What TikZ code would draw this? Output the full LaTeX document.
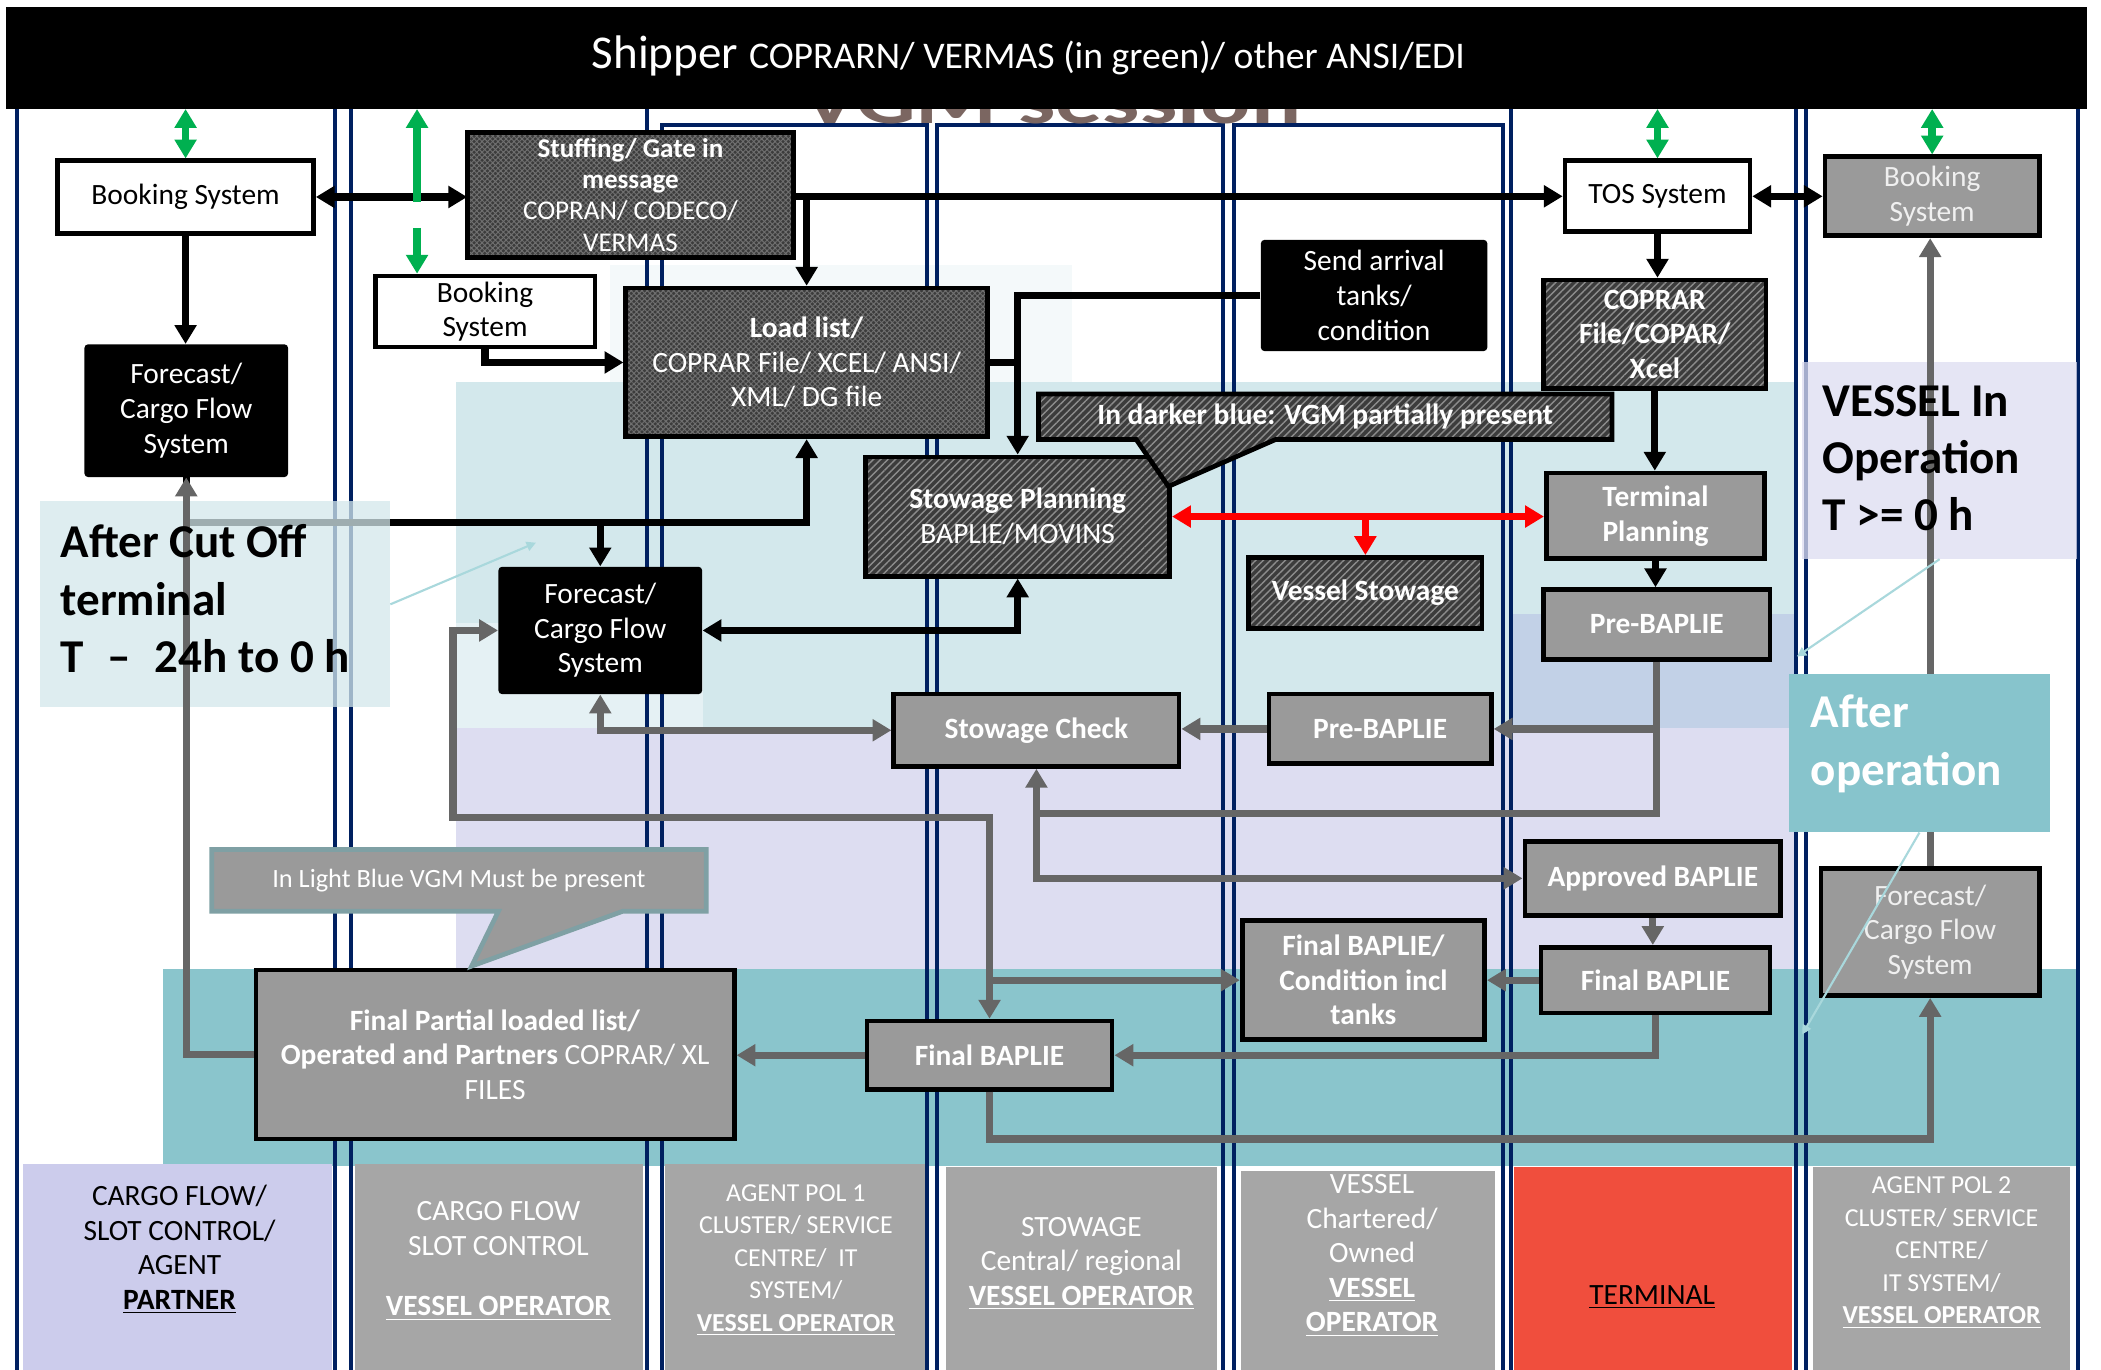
\documentclass[tikz,border=0pt]{standalone}
\usepackage{fontspec}
\setmainfont{Carlito}
\usepackage{tikz}
\usetikzlibrary{arrows.meta,patterns.meta}

\definecolor{lanenavy}{HTML}{002060}
\definecolor{vgmgreen}{HTML}{00B050}
\definecolor{boxgray}{HTML}{9A9A9A}
\definecolor{linegray}{HTML}{666666}
\definecolor{taggray}{HTML}{A6A6A6}
\definecolor{tagpurple}{HTML}{CCCCEC}
\definecolor{termred}{HTML}{F04E3D}
\definecolor{paleblue}{HTML}{D3E8EC}
\definecolor{palerblue}{HTML}{E5F1F4}
\definecolor{faintblue}{HTML}{F4F9FA}
\definecolor{darkblue}{HTML}{C2D1E7}
\definecolor{lavender}{HTML}{DDDDF1}
\definecolor{tealband}{HTML}{8AC5CC}
\definecolor{afterteal}{HTML}{87C4CC}
\definecolor{hatchbg}{HTML}{3C3C3C}
\definecolor{hatchln}{HTML}{8C8C8C}
\definecolor{calloutedge}{HTML}{7FA0A4}
\definecolor{wmbrown}{HTML}{7B6661}
\definecolor{pointerblue}{HTML}{A9D8DC}

\newcommand{\flowfont}{\fontsize{12.5}{14.7}\selectfont}
\newcommand{\notefont}{\fontsize{11.2}{13.4}\selectfont}
\newcommand{\smalltagfont}{\fontsize{11}{13.8}\selectfont}
\newcommand{\bigfont}{\fontsize{20}{24.4}\selectfont}

\begin{document}
\begin{tikzpicture}[x=0.02cm, y=-0.02cm, >={Triangle[length=8pt,width=9pt]}]
    \tikzstyle{lane} = [draw=lanenavy, line width=1.7pt]
    \tikzstyle{whitebox} = [rectangle, draw=black, line width=2pt, fill=white, inner sep=1pt, font=\flowfont, align=center]
    \tikzstyle{blackbox} = [rectangle, fill=black, rounded corners=1.5pt, text=white, inner sep=1pt, font=\flowfont, align=center]
    \tikzstyle{graybox} = [rectangle, draw=black, line width=2pt, fill=boxgray, text=white, inner sep=1pt, font=\flowfont\bfseries, align=center]
    \tikzstyle{hatchfill} = [draw=black, line width=2pt, preaction={fill=hatchbg}, pattern={Lines[angle=45,distance=2.2pt,line width=0.6pt]}, pattern color=hatchln]
    \tikzstyle{hatchbox} = [rectangle, hatchfill, text=white, inner sep=1pt, font=\flowfont\bfseries, align=center]
    \tikzstyle{crossbox} = [hatchbox, pattern={Hatch[angle=45,distance=1.6pt,line width=0.4pt]}, pattern color=hatchln!80!black]
    \tikzstyle{tag} = [text=white, font=\flowfont, align=center]
    \tikzstyle{bigtext} = [font=\bigfont\bfseries, align=left, anchor=west, inner xsep=0pt]
    \tikzstyle{blk} = [draw=black, line width=3.1pt, ->]
    \tikzstyle{blkboth} = [draw=black, line width=3.1pt, <->]
    \tikzstyle{blkjoin} = [draw=black, line width=3.1pt]
    \tikzstyle{gry} = [draw=linegray, line width=3.1pt, ->]
    \tikzstyle{gryboth} = [draw=linegray, line width=3.1pt, <->]
    \tikzstyle{gryjoin} = [draw=linegray, line width=3.1pt]
    \tikzstyle{redboth} = [draw=red, line width=3.3pt, <->]
    \tikzstyle{redone} = [draw=red, line width=3.3pt, ->]
    \tikzstyle{grnboth} = [draw=vgmgreen, line width=3.2pt, <->]
    \tikzstyle{pointer} = [draw=pointerblue, line width=0.9pt, -{Triangle[length=4pt,width=4pt]}]

    \useasboundingbox (0,0) rectangle (1568,1022);
    \clip (0,0) rectangle (1568,1022);
    \fill[white] (0,0) rectangle (1568,1022);

    % Shaded phases
    \fill[faintblue] (455,198) rectangle (800,285);
    \fill[paleblue] (340,285) rectangle (1340,543);
    \fill[palerblue] (340,465) rectangle (525,543);
    \fill[darkblue] (1128,458) rectangle (1340,543);
    \fill[lavender] (340,543) rectangle (1340,723);
    \fill[tealband] (122,723) rectangle (1549,870);

    % Party labels at the foot of the lanes
    \foreach \xa/\ya/\xb/\col in {17/869/248/tagpurple, 265/869/480/taggray, 496/869/690/taggray, 706/871/908/taggray, 926/874/1116/taggray, 1130/871/1337/termred, 1353/871/1545/taggray}
        \fill[\col] (\xa,\ya) rectangle (\xb,1040);

    % Lanes
    \foreach \xa/\ya/\xb in {13/78/250, 262/78/483, 494/93/692, 699/93/913, 921/93/1122, 1128/78/1340, 1348/78/1551}
        \draw[lane] (\xa,\ya) rectangle (\xb,1040);

    % Header
    \node[text=wmbrown, font=\fontsize{28}{28}\selectfont\bfseries, xscale=1.42, anchor=base, inner sep=0pt] (wmark) at (785,92) {VGM session};
    \node[fill=black, minimum width=31.08cm, minimum height=1.51cm, inner sep=0pt] (hdr) at (781,43.25) {};
    \node[text=white, anchor=base, inner sep=0pt] (hdrtxt) at (767.5,51) {\fontsize{20}{24}\selectfont Shipper \fontsize{16}{20}\selectfont COPRARN/ VERMAS (in green)/ other ANSI/EDI};

    % Systems and messages
    \node[whitebox, minimum width=3.82cm, minimum height=1.08cm] (bookA) at (138.5,147) {Booking System};
    \node[blackbox, minimum width=3.04cm, minimum height=1.98cm] (fcA) at (139,306.5) {Forecast/\\Cargo Flow\\System};
    \node[crossbox, minimum width=4.86cm, minimum height=1.86cm, inner sep=0pt, font=\fontsize{11.5}{13.2}\selectfont] (stuff) at (470.5,145.5) {\textbf{Stuffing/ Gate in}\\\textbf{message}\\COPRAN/ CODECO/\\VERMAS};
    \node[whitebox, minimum width=3.28cm, minimum height=1.06cm] (bookB) at (362,232.5) {Booking\\System};
    \node[crossbox, minimum width=5.4cm, minimum height=2.22cm, font=\flowfont] (load) at (602,270.5) {\textbf{Load list/}\\COPRAR File/ XCEL/ ANSI/\\XML/ DG file};
    \node[blackbox, minimum width=3.38cm, minimum height=1.66cm] (arrival) at (1025.5,220.5) {Send arrival\\tanks/\\condition};
    \node[whitebox, minimum width=2.76cm, minimum height=1.06cm] (tos) at (1237,146.5) {TOS System};
    \node[graybox, font=\flowfont, text=white!94!black, minimum width=3.2cm, minimum height=1.18cm] (bookC) at (1442,146.5) {Booking\\System};
    \node[hatchbox, minimum width=3.32cm, minimum height=1.62cm] (coprar) at (1235,249.5) {COPRAR\\File/COPAR/\\Xcel};
    \node[hatchbox, minimum width=4.54cm, minimum height=1.78cm, font=\flowfont] (stowplan) at (759.5,385.5) {\textbf{Stowage Planning}\\BAPLIE/MOVINS};
    \node[graybox, minimum width=3.26cm, minimum height=1.28cm] (termplan) at (1235.5,385) {Terminal\\Planning};
    \node[hatchbox, minimum width=3.48cm, minimum height=1.06cm] (vstow) at (1019,442.5) {Vessel Stowage};
    \node[graybox, minimum width=3.38cm, minimum height=1.04cm] (prebapT) at (1236.5,466) {Pre-BAPLIE};
    \node[blackbox, minimum width=3.04cm, minimum height=1.9cm] (fcB) at (448,470.5) {Forecast/\\Cargo Flow\\System};
    \node[graybox, minimum width=4.26cm, minimum height=1.08cm] (stowcheck) at (773.5,545) {Stowage Check};
    \node[graybox, minimum width=3.32cm, minimum height=1.04cm] (prebapV) at (1030,544) {Pre-BAPLIE};
    \node[graybox, minimum width=3.82cm, minimum height=1.1cm] (approved) at (1233.5,655.5) {Approved BAPLIE};
    \node[graybox, minimum width=3.62cm, minimum height=1.78cm] (finalcond) at (1017.5,731.5) {Final BAPLIE/\\Condition incl\\tanks};
    \node[graybox, minimum width=3.42cm, minimum height=0.98cm] (finalT) at (1235.5,731.5) {Final BAPLIE};
    \node[graybox, font=\flowfont, minimum width=7.14cm, minimum height=2.52cm] (partial) at (369.5,787) {\textbf{Final Partial loaded list/}\\\textbf{Operated and Partners} COPRAR/ XL\\FILES};
    \node[graybox, minimum width=3.66cm, minimum height=1.02cm] (finalS) at (738.5,787.5) {Final BAPLIE};
    \node[graybox, font=\flowfont, text=white!94!black, minimum width=3.26cm, minimum height=1.9cm] (fcC) at (1440.5,695.5) {Forecast/\\Cargo Flow\\System};

    % Black flows
    \draw[blkboth] (bookA.east) -- (bookA.east -| stuff.west);
    \draw[blk] (stuff.east |- tos.west) -- (tos.west);
    \draw[blk] (load.north |- tos.west) -- (load.north);
    \draw[blkboth] (tos.east) -- (tos.east -| bookC.west);
    \draw[blk] (bookA.south) -- (bookA.south |- fcA.north);
    \draw[blk] (bookB.south) |- (load.west);
    \draw[blkjoin] (load.east) -- (load.east -| stowplan.north);
    \draw[blk] (arrival.west) -| (stowplan.north);
    \coordinate (cutline) at (0,390);
    \draw[blk] (fcA.south) |- (load.south |- cutline) -- (load.south);
    \draw[blk] (fcB.north |- cutline) -- (fcB.north);
    \draw[blkboth] (fcB.east) -| (stowplan.south);
    \draw[blk] (tos.south) -- (tos.south |- coprar.north);
    \draw[blk] (coprar.south) -- (coprar.south |- termplan.north);
    \draw[blk] (termplan.south) -- (termplan.south |- prebapT.north);

    % Time windows
    \node[fill=paleblue, fill opacity=0.75, minimum width=5.22cm, minimum height=3.08cm, inner sep=0pt] (cutoff) at (160.5,451) {};
    \node[fill=lavender, fill opacity=0.75, minimum width=4.1cm, minimum height=2.94cm, inner sep=0pt] (vesselop) at (1447.5,343.5) {};

    % Gray flows
    \draw[gry] (partial.west) -| (fcA.south);
    \draw[gryboth] (fcB.south) |- (stowcheck.west);
    \draw[gry] (prebapV.west) -- (prebapV.west -| stowcheck.east);
    \coordinate (planline) at (0,607);
    \draw[gryjoin] (prebapT.south) |- (stowcheck.south |- planline);
    \draw[gry] (prebapT.south |- prebapV.east) -- (prebapV.east);
    \draw[gryboth] (stowcheck.south) |- (approved.west);
    \coordinate (backline) at (338,610);
    \draw[gryboth] (fcB.west) -| (backline) -| (finalS.north);
    \draw[gry] (finalS.north |- finalcond.west) -- (finalcond.west);
    \draw[gry] (approved.south) -- (approved.south |- finalT.north);
    \draw[gry] (finalT.west) -- (finalT.west -| finalcond.east);
    \draw[gry] (finalT.south) |- (finalS.east);
    \draw[gry] (finalS.west) -- (finalS.west -| partial.east);
    \coordinate (bottomline) at (0,850);
    \draw[gry] (finalS.south) -- (finalS.south |- bottomline) -| (fcC.south);
    \draw[gry] (fcC.north) -- (fcC.north |- bookC.south);

    % Red and green flows
    \draw[redboth] (stowplan.east) -- (stowplan.east -| termplan.west);
    \draw[redone] (vstow.north |- stowplan.east) -- (vstow.north);
    \draw[grnboth] (bookA.north |- hdr.south) -- (bookA.north);
    \coordinate (bookBgreen) at ([xshift=0.66cm]bookB.north west);
    \draw[grnboth, dash pattern=on 32pt off 11pt] (bookBgreen |- hdr.south) -- (bookBgreen);
    \draw[grnboth] (tos.north |- hdr.south) -- (tos.north);
    \draw[grnboth] (bookC.north |- hdr.south) -- (bookC.north);

    % Window labels
    \node[bigtext] (cutofftxt) at (45,447) {After Cut Off\\terminal\\T\enspace–\enspace24h to 0 h};
    \node[bigtext] (vesseltxt) at (1360,342) {VESSEL In\\Operation\\T >= 0 h};
    \node[fill=afterteal, minimum width=3.9cm, minimum height=2.36cm, inner sep=0pt] (afterop) at (1432.5,562) {};
    \node[bigtext, text=white] (aftertxt) at (1351,555) {After\\operation};

    % Callouts
    \draw[hatchfill] (775,294) -- (1203,294) -- (1203,328) -- (952,328) -- (872,363) -- (848,328) -- (775,328) -- cycle;
    \node[text=white, font=\flowfont\bfseries] (darknote) at (989,311) {In darker blue: VGM partially present};
    \draw[fill=boxgray, draw=calloutedge, line width=2pt] (158,634) -- (527,634) -- (527,680) -- (465,680) -- (352,721) -- (372,680) -- (158,680) -- cycle;
    \node[text=white, font=\notefont] (lightnote) at (342.5,657) {In Light Blue VGM Must be present};

    % Pointers
    \coordinate (cutTip) at (400,405);
    \draw[pointer] (cutoff.east) -- (cutTip);
    \coordinate (vesselTip) at (1341,490);
    \draw[pointer] (vesselop.south) -- (vesselTip);
    \coordinate (afterTip) at (1345,772);
    \draw[pointer] (afterop.south) -- (afterTip);

    % Parties
    \node[font=\flowfont, align=center] (tagA) at (134,932.5) {CARGO FLOW/\\SLOT CONTROL/\\AGENT\\\underline{\textbf{PARTNER}}};
    \node[tag] (tagB) at (372,941) {CARGO FLOW\\SLOT CONTROL\\[11pt]\underline{\textbf{VESSEL OPERATOR}}};
    \node[tag, font=\smalltagfont] (tagC) at (594,940.5) {AGENT POL 1\\CLUSTER/ SERVICE\\CENTRE/\ \ IT\\SYSTEM/\\\underline{\textbf{VESSEL OPERATOR}}};
    \node[tag] (tagD) at (807,943) {STOWAGE\\Central/ regional\\\underline{\textbf{VESSEL OPERATOR}}};
    \node[tag] (tagE) at (1024,937) {VESSEL\\Chartered/\\Owned\\\underline{\textbf{VESSEL}}\\\underline{\textbf{OPERATOR}}};
    \node[font=\flowfont] (tagF) at (1233,968) {\underline{TERMINAL}};
    \node[tag, font=\smalltagfont] (tagG) at (1449,935) {AGENT POL 2\\CLUSTER/ SERVICE\\CENTRE/\\IT SYSTEM/\\\underline{\textbf{VESSEL OPERATOR}}};

\end{tikzpicture}
\end{document}
